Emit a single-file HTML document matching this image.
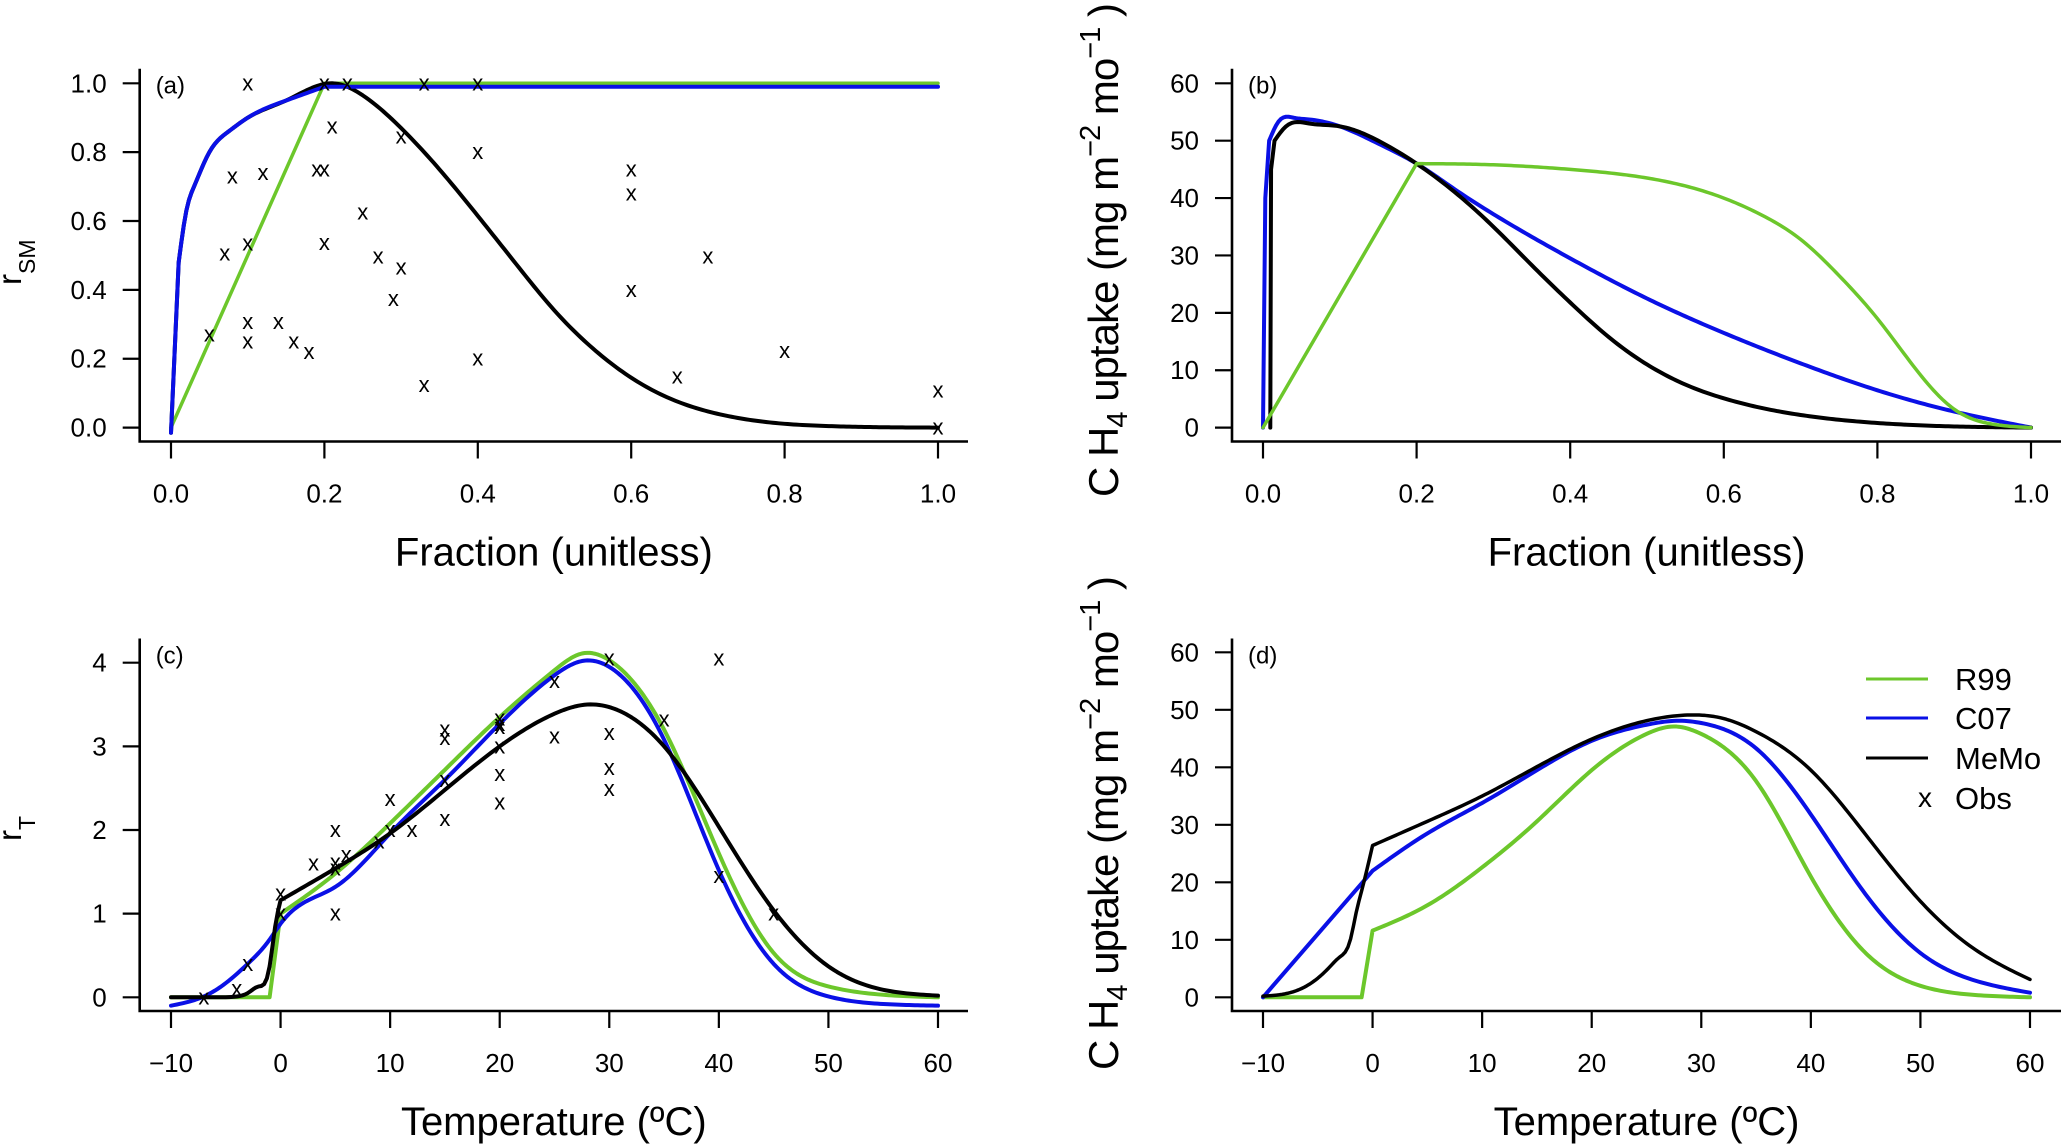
<!DOCTYPE html>
<html><head><meta charset="utf-8"><style>
html,body{margin:0;padding:0;background:#fff;}
svg{display:block;font-family:"Liberation Sans",Arial,sans-serif;}
</style></head><body>
<svg id="fig" width="2067" height="1147" viewBox="0 0 2067 1147" xmlns="http://www.w3.org/2000/svg">
<rect width="2067" height="1147" fill="#fff"/>
</svg>
<script>
// ===== Panel (a) data =====
const aGreenX=[0,0.2,1.0];
const aGreenY=[0,1.0,1.0];
const aGreenBreaks=[1];
const aBlueX=[0,0.01,0.02,0.03,0.05,0.075,0.1,0.15,0.2,0.6,1.0];
const aBlueY=[-0.015,0.48,0.63,0.70,0.80,0.86,0.90,0.95,0.99,0.99,0.99];
const aBlueBreaks=[1,8];
const aBlackX=[0,0.01,0.02,0.03,0.05,0.075,0.1,0.15,0.21,0.25,0.3,0.35,0.4,0.45,0.5,0.55,0.6,0.65,0.7,0.75,0.8,0.85,0.9,1.0];
const aBlackY=[-0.015,0.48,0.63,0.70,0.80,0.86,0.90,0.95,1.0,0.965,0.87,0.75,0.615,0.475,0.34,0.23,0.145,0.085,0.047,0.024,0.011,0.005,0.002,0.0];
const aBlackBreaks=[1];
const aObsX=[0.1,0.2,0.23,0.33,0.4,0.21,0.3,0.4,0.08,0.12,0.19,0.2,0.6,0.6,0.25,0.2,0.1,0.07,0.27,0.3,0.7,0.29,0.6,0.05,0.1,0.14,0.1,0.16,0.18,0.4,0.8,0.33,0.66,1.0,1.0];
const aObsY=[1.0,1.0,1.0,1.0,1.0,0.874,0.846,0.80,0.73,0.74,0.75,0.75,0.75,0.68,0.625,0.536,0.534,0.505,0.497,0.465,0.497,0.374,0.40,0.27,0.306,0.306,0.25,0.25,0.22,0.20,0.223,0.124,0.149,0.108,0.0];
const aYTicks=[0,0.2,0.4,0.6,0.8,1.0];
const aYLabels=["0.0","0.2","0.4","0.6","0.8","1.0"];
const abXTicks=[0,0.2,0.4,0.6,0.8,1.0];
const abXLabels=["0.0","0.2","0.4","0.6","0.8","1.0"];
// ===== Panel (b) data =====
const bGreenX=[0,0.2,0.3,0.4,0.5,0.6,0.65,0.7,0.75,0.8,0.85,0.9,0.95,1.0];
const bGreenY=[0,46,45.8,45,43.5,40,37,32.8,26.5,19,10.2,3.2,0.6,0];
const bGreenBreaks=[1];
const bBlueX=[0,0.003,0.008,0.02,0.04,0.06,0.1,0.15,0.2,0.25,0.3,0.4,0.5,0.6,0.7,0.8,0.9,1.0];
const bBlueY=[0,40,50,53.3,54,53.7,52.5,49.5,46,41.5,37.2,29.5,22.5,16.5,11.2,6.5,2.8,0];
const bBlueBreaks=[1,2];
const bBlackX=[0.0095,0.0105,0.015,0.03,0.06,0.1,0.15,0.2,0.25,0.3,0.35,0.4,0.45,0.5,0.55,0.6,0.7,0.8,0.9,1.0];
const bBlackY=[0,45,50,52.5,53,52.5,50,46,41,35,28.3,21.8,15.8,11,7.5,5.1,2.2,0.8,0.2,0];
const bBlackBreaks=[1,2];
const bYTicks=[0,10,20,30,40,50,60];
const bYLabels=["0","10","20","30","40","50","60"];
// ===== Panel (c) data =====
const cGreenX=[-10,-1,0,5,10,15,20,25,27.5,30,35,40,45,50,55,60];
const cGreenY=[0,0,1.0,1.48,2.08,2.72,3.35,3.91,4.11,4.03,3.2,1.72,0.53,0.13,0.03,0.0];
const cGreenBreaks=[1,2];
const cBlueX=[-10,-7,-5,-3,-1,0,5,10,15,20,25,27.5,30,35,40,45,50,55,60];
const cBlueY=[-0.1,0.01,0.17,0.4,0.69,0.88,1.32,1.96,2.6,3.27,3.85,4.02,3.95,3.08,1.52,0.4,0.01,-0.08,-0.1];
const cBlackX=[-10,-5,-4,-3,-2,-1,-0.5,0,5,10,15,20,25,28,31,35,40,45,50,55,60];
const cBlackY=[0,0,0.01,0.05,0.13,0.37,0.84,1.16,1.54,1.96,2.48,3.0,3.39,3.5,3.42,3.0,2.04,1.04,0.37,0.09,0.02];
const cBlackBreaks=[1,7];
const cObsX=[-7,-4,-3,0,0,3,5,5,5,5,6,9,10,10,12,15,15,15,15,20,20,20,20,20,20,25,25,30,30,30,30,35,40,40,45];
const cObsY=[0.0,0.1,0.4,1.24,1.0,1.6,2.0,1.61,1.54,1.0,1.7,1.86,2.37,2.0,2.0,3.2,3.1,2.6,2.13,3.33,3.27,3.23,3.0,2.67,2.33,3.78,3.12,4.05,3.16,2.74,2.49,3.32,4.05,1.45,1.0];
const cYTicks=[0,1,2,3,4];
const cYLabels=["0","1","2","3","4"];
const cdXTicks=[-10,0,10,20,30,40,50,60];
const cdXLabels=["\u221210","0","10","20","30","40","50","60"];
// ===== Panel (d) data =====
const dGreenX=[-10,-1,0,5,10,15,20,25,27.5,30,35,40,45,50,55,60];
const dGreenY=[0,0,11.6,16,22.6,30.6,39.5,45.8,47.1,45.8,37.6,21,7.7,2,0.4,0];
const dGreenBreaks=[1,2];
const dBlueX=[-10,0,5,10,15,20,25,28,30,35,40,45,50,55,60];
const dBlueY=[0,22,28.5,33.8,39.5,44.6,47.4,48.1,47.7,43.3,31.8,17.9,7.7,2.9,0.8];
const dBlueBreaks=[1];
const dBlackX=[-10,-8,-6,-4,-3,-2,-1.5,-1,0,5,10,15,20,25,29,32,35,40,45,50,55,60];
const dBlackY=[0.2,0.6,2,5.1,7,10.2,14.7,18.5,26.4,30.6,35,40.1,44.9,48.1,49.1,48.5,46.2,39.5,28.3,16.7,8.3,3.1];
const dBlackBreaks=[8];
const legendLabels=["R99","C07","MeMo","Obs"];

const NS="http://www.w3.org/2000/svg";
const svg=document.getElementById('fig');
const GREEN="#6cc72b",BLUE="#0a10e6",BLACK="#000";
function mk(tag,attrs,parent){const e=document.createElementNS(NS,tag);for(const k in attrs)e.setAttribute(k,attrs[k]);(parent||svg).appendChild(e);return e;}

function splinePts(px,py){
  const n=px.length;
  if(n<3) return px.map((x,i)=>[x,py[i]]);
  const h=[],al=[],l=[1],mu=[0],z=[0],c=new Array(n).fill(0),b=[],d=[];
  for(let i=0;i<n-1;i++) h[i]=px[i+1]-px[i];
  for(let i=1;i<n-1;i++) al[i]=3/h[i]*(py[i+1]-py[i])-3/h[i-1]*(py[i]-py[i-1]);
  for(let i=1;i<n-1;i++){l[i]=2*(px[i+1]-px[i-1])-h[i-1]*mu[i-1];mu[i]=h[i]/l[i];z[i]=(al[i]-h[i-1]*z[i-1])/l[i];}
  l[n-1]=1;z[n-1]=0;c[n-1]=0;
  for(let j=n-2;j>=0;j--){c[j]=z[j]-mu[j]*c[j+1];b[j]=(py[j+1]-py[j])/h[j]-h[j]*(c[j+1]+2*c[j])/3;d[j]=(c[j+1]-c[j])/(3*h[j]);}
  const out=[];
  for(let i=0;i<n-1;i++){
    const steps=Math.max(2,Math.ceil(h[i]/3));
    for(let s=0;s<steps;s++){const t=h[i]*s/steps;out.push([px[i]+t,py[i]+b[i]*t+c[i]*t*t+d[i]*t*t*t]);}
  }
  out.push([px[n-1],py[n-1]]);
  return out;
}
function seriesPath(xs,ys,breaks,sx,sy){
  const px=xs.map(sx),py=ys.map(sy);
  const cuts=[0].concat(breaks||[]).concat([xs.length-1]);
  let pts=[];
  for(let k=0;k<cuts.length-1;k++){
    const a=cuts[k],b=cuts[k+1];
    const seg=splinePts(px.slice(a,b+1),py.slice(a,b+1));
    pts=pts.concat(k>0?seg.slice(1):seg);
  }
  return "M"+pts.map(p=>p[0].toFixed(2)+","+p[1].toFixed(2)).join("L");
}

function panel(cfg){
  const g=mk('g',{});
  
  
  const L=cfg.left,B=cfg.bottom;
  const ax=mk('path',{d:`M${L},${cfg.top}V${B}H${cfg.right}`,fill:'none',stroke:'#000','stroke-width':2.6},g);
  
  
  cfg.xTicks.forEach((v,i)=>{
    const x=cfg.sx(v);
    const t=mk('line',{x1:x,x2:x,y1:B,y2:B+17,stroke:'#000','stroke-width':2.2},g);
    
    
    const tl=mk('text',{x:x,y:B+61,'font-size':26,'text-anchor':'middle'},g);
    tl.textContent=cfg.xLabels[i];
    
    
  });
  cfg.yTicks.forEach((v,i)=>{
    const y=cfg.sy(v);
    const t=mk('line',{x1:L-17,x2:L,y1:y,y2:y,stroke:'#000','stroke-width':2.2},g);
    
    
    const tl=mk('text',{x:L-33,y:y+9,'font-size':26,'text-anchor':'end'},g);
    tl.textContent=cfg.yLabels[i];
    
    
  });
  const pl=mk('text',{x:L+16,y:cfg.top+25,'font-size':24},g);
  pl.textContent='('+cfg.id+')';
  
  
  const xt=mk('text',{x:(L+cfg.right)/2,y:B+124,'font-size':40,'text-anchor':'middle'},g);
  xt.textContent=cfg.xTitle;
  
  
  cfg.series.forEach(s=>{
    const p=mk('path',{d:seriesPath(s.x,s.y,s.breaks,cfg.sx,cfg.sy),fill:'none',stroke:s.color,'stroke-width':s.w||4,'stroke-linejoin':'round','stroke-linecap':'round'},g);
    
    
  });
  if(cfg.obsX){
    cfg.obsX.forEach((v,i)=>{
      const o=mk('text',{x:cfg.sx(v),y:cfg.sy(cfg.obsY[i])+7,'font-size':22,'text-anchor':'middle'},g);
      o.textContent='x';
      
      
    });
  }
  return g;
}

const sxA=v=>171+v*767, syA=v=>427.6-v*344.3;
const sxB=v=>1263+v*768, syB=v=>427.6-v*5.738;
const sxC=v=>171+(v+10)*10.957, syC=v=>997.3-v*83.65;
const sxD=v=>1263+(v+10)*10.957, syD=v=>997.3-v*5.75;

panel({id:'a',left:139.7,right:968,top:68.7,bottom:441.5,sx:sxA,sy:syA,xTicks:abXTicks,xLabels:abXLabels,yTicks:aYTicks,yLabels:aYLabels,xTitle:'Fraction (unitless)',
 series:[{name:'r99-line',x:aGreenX,y:aGreenY,breaks:aGreenBreaks,color:GREEN,w:3.5},{name:'memo-line',x:aBlackX,y:aBlackY,breaks:aBlackBreaks,color:BLACK,w:4},{name:'c07-line',x:aBlueX,y:aBlueY,breaks:aBlueBreaks,color:BLUE,w:4}],obsX:aObsX,obsY:aObsY});
panel({id:'b',left:1232,right:2061,top:68.7,bottom:441.5,sx:sxB,sy:syB,xTicks:abXTicks,xLabels:abXLabels,yTicks:bYTicks,yLabels:bYLabels,xTitle:'Fraction (unitless)',
 series:[{name:'c07-line',x:bBlueX,y:bBlueY,breaks:bBlueBreaks,color:BLUE,w:4},{name:'memo-line',x:bBlackX,y:bBlackY,breaks:bBlackBreaks,color:BLACK,w:4},{name:'r99-line',x:bGreenX,y:bGreenY,breaks:bGreenBreaks,color:GREEN,w:3.5}]});
panel({id:'c',left:139.7,right:968,top:638.5,bottom:1011,sx:sxC,sy:syC,xTicks:cdXTicks,xLabels:cdXLabels,yTicks:cYTicks,yLabels:cYLabels,xTitle:'Temperature (\u00BAC)',
 series:[{name:'r99-line',x:cGreenX,y:cGreenY,breaks:cGreenBreaks,color:GREEN,w:4},{name:'c07-line',x:cBlueX,y:cBlueY,breaks:[],color:BLUE,w:4},{name:'memo-line',x:cBlackX,y:cBlackY,breaks:cBlackBreaks,color:BLACK,w:4}],obsX:cObsX,obsY:cObsY});
panel({id:'d',left:1232,right:2061,top:638.5,bottom:1011,sx:sxD,sy:syD,xTicks:cdXTicks,xLabels:cdXLabels,yTicks:bYTicks,yLabels:bYLabels,xTitle:'Temperature (\u00BAC)',
 series:[{name:'r99-line',x:dGreenX,y:dGreenY,breaks:dGreenBreaks,color:GREEN,w:4},{name:'c07-line',x:dBlueX,y:dBlueY,breaks:dBlueBreaks,color:BLUE,w:4},{name:'memo-line',x:dBlackX,y:dBlackY,breaks:dBlackBreaks,color:BLACK,w:3.5}]});

// legend
const legColors=[GREEN,BLUE,BLACK,null];
const legY=[679,718,758,798];
const lg=mk('g',{});


legendLabels.forEach((lab,i)=>{
  if(legColors[i]){
    const l=mk('line',{x1:1866,x2:1928,y1:legY[i],y2:legY[i],stroke:legColors[i],'stroke-width':3},lg);
    
    
  } else {
    const x=mk('text',{x:1925,y:legY[i]+9,'font-size':28,'text-anchor':'middle'},lg);
    x.textContent='x';
    
    
  }
  const t=mk('text',{x:1955,y:legY[i]+11,'font-size':31},lg);
  t.textContent=lab;
  
  
});
</script>
<svg style="position:absolute;left:0;top:0" width="2067" height="1147" viewBox="0 0 2067 1147" xmlns="http://www.w3.org/2000/svg" font-family="Liberation Sans, Arial, sans-serif">
  <text transform="translate(21,285) rotate(-90)" font-size="33">r<tspan font-size="23" dy="14">SM</tspan></text>
  <text transform="translate(21,841) rotate(-90)" font-size="33">r<tspan font-size="23" dy="14">T</tspan></text>
  <text transform="translate(1118,497) rotate(-90)" font-size="42" textLength="494" lengthAdjust="spacing">C H<tspan font-size="29" dy="9">4</tspan><tspan dy="-9">  uptake (mg m</tspan><tspan font-size="29" dy="-18">−2</tspan><tspan dy="18"> mo</tspan><tspan font-size="29" dy="-18">−1</tspan><tspan dy="18"> )</tspan></text>
  <text transform="translate(1118,1070) rotate(-90)" font-size="42" textLength="494" lengthAdjust="spacing">C H<tspan font-size="29" dy="9">4</tspan><tspan dy="-9">  uptake (mg m</tspan><tspan font-size="29" dy="-18">−2</tspan><tspan dy="18"> mo</tspan><tspan font-size="29" dy="-18">−1</tspan><tspan dy="18"> )</tspan></text>
</svg>
</body></html>
